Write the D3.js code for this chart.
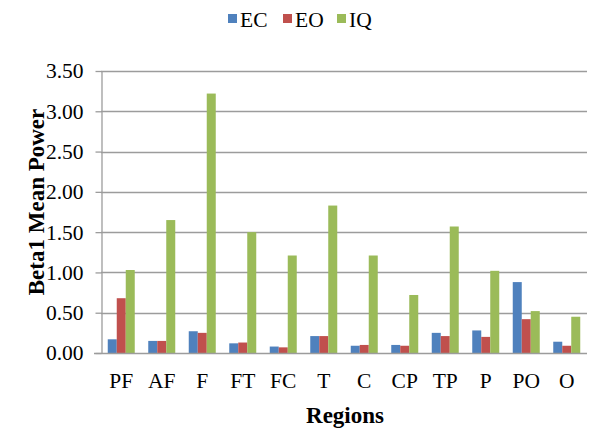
<!DOCTYPE html>
<html>
<head>
<meta charset="utf-8">
<script src="https://cdn.jsdelivr.net/npm/d3@7"></script>
<style>
  html, body { margin: 0; padding: 0; background: #fff; }
  svg { display: block; }
  text { font-family: "Liberation Serif", "Times New Roman", serif; fill: #000; }
</style>
</head>
<body>
<svg id="chart" width="592" height="429"></svg>
<script>
const categories = ["PF", "AF", "F", "FT", "FC", "T", "C", "CP", "TP", "P", "PO", "O"];
const seriesNames = ["EC", "EO", "IQ"];
const ecValues = [0.17, 0.15, 0.27, 0.12, 0.08, 0.21, 0.09, 0.10, 0.25, 0.28, 0.88, 0.14];
const eoValues = [0.68, 0.15, 0.25, 0.13, 0.07, 0.21, 0.10, 0.09, 0.21, 0.20, 0.42, 0.09];
const iqValues = [1.03, 1.65, 3.22, 1.50, 1.21, 1.83, 1.21, 0.72, 1.57, 1.02, 0.52, 0.45];
const yTicks = [0, 0.5, 1.0, 1.5, 2.0, 2.5, 3.0, 3.5];
const colors = ["#4F81BD", "#C0504D", "#9BBB59"];

const seriesValues = [ecValues, eoValues, iqValues];
const data = categories.map((c, i) => ({
  cat: c,
  vals: seriesNames.map((s, j) => ({ key: s, value: seriesValues[j][i] }))
}));

const svg = d3.select("#chart");
const mLeft = 101, mRight = 587, mTop = 71, mBottom = 353;
const fs = 21.5, fsBold = 23;

const x = d3.scaleBand().domain(categories).range([mLeft, mRight]).padding(0);
const xInner = d3.scaleBand().domain(seriesNames).range([0, x.bandwidth()])
  .paddingInner(0).paddingOuter(0.75);
const y = d3.scaleLinear().domain([0, 3.5]).range([mBottom, mTop]);
const color = d3.scaleOrdinal().domain(seriesNames).range(colors);

// gridlines
svg.append("g").selectAll("line").data(yTicks.filter(d => d > 0)).join("line")
  .attr("x1", mLeft).attr("x2", mRight)
  .attr("y1", d => Math.round(y(d)) + 0.5).attr("y2", d => Math.round(y(d)) + 0.5)
  .attr("stroke", "#9c9c9c").attr("stroke-width", 1.3);

// bars
const groups = svg.append("g").selectAll("g").data(data).join("g")
  .attr("transform", d => `translate(${x(d.cat)},0)`);
groups.selectAll("rect").data(d => d.vals).join("rect")
  .attr("x", d => xInner(d.key))
  .attr("width", xInner.bandwidth())
  .attr("y", d => y(d.value))
  .attr("height", d => y(0) - y(d.value))
  .attr("fill", d => color(d.key));

// y axis
const yAxis = d3.axisLeft(y).tickValues(yTicks).tickFormat(d3.format(".2f")).tickSizeOuter(0).tickSizeInner(6).tickPadding(12);
const gy = svg.append("g").attr("transform", `translate(${mLeft + 0.5},0)`).call(yAxis);
gy.select(".domain").attr("stroke", "#9c9c9c").attr("stroke-width", 1.3);
gy.selectAll(".tick line").attr("stroke", "#9c9c9c").attr("stroke-width", 1.3);
gy.selectAll(".tick text").attr("font-size", fs).attr("font-family", "Liberation Serif").attr("fill", "#000");

// x axis
const xAxis = d3.axisBottom(x).tickSize(0).tickPadding(19);
const gx = svg.append("g").attr("transform", `translate(0,${mBottom + 0.5})`).call(xAxis);
gx.select(".domain").attr("stroke", "#9c9c9c").attr("stroke-width", 1.3).attr("d", `M${mLeft - 7},0H${mRight}`);
gx.selectAll(".tick text").attr("font-size", fs).attr("font-family", "Liberation Serif").attr("fill", "#000");

// axis titles
svg.append("text").attr("x", 345).attr("y", 423)
  .attr("text-anchor", "middle").attr("font-size", fsBold).attr("font-weight", "bold")
  .text("Regions");
svg.append("text").attr("transform", `translate(44,202) rotate(-90)`)
  .attr("text-anchor", "middle").attr("font-size", fsBold).attr("font-weight", "bold")
  .text("Beta1 Mean Power");

// legend
const legendX = [228, 283, 337];
const legend = svg.append("g").selectAll("g").data(seriesNames).join("g")
  .attr("transform", (d, i) => `translate(${legendX[i]},14)`);
legend.append("rect").attr("width", 9).attr("height", 9).attr("fill", d => color(d));
legend.append("text").attr("x", 12).attr("y", 13).attr("font-size", fs).text(d => d);
</script>
</body>
</html>
